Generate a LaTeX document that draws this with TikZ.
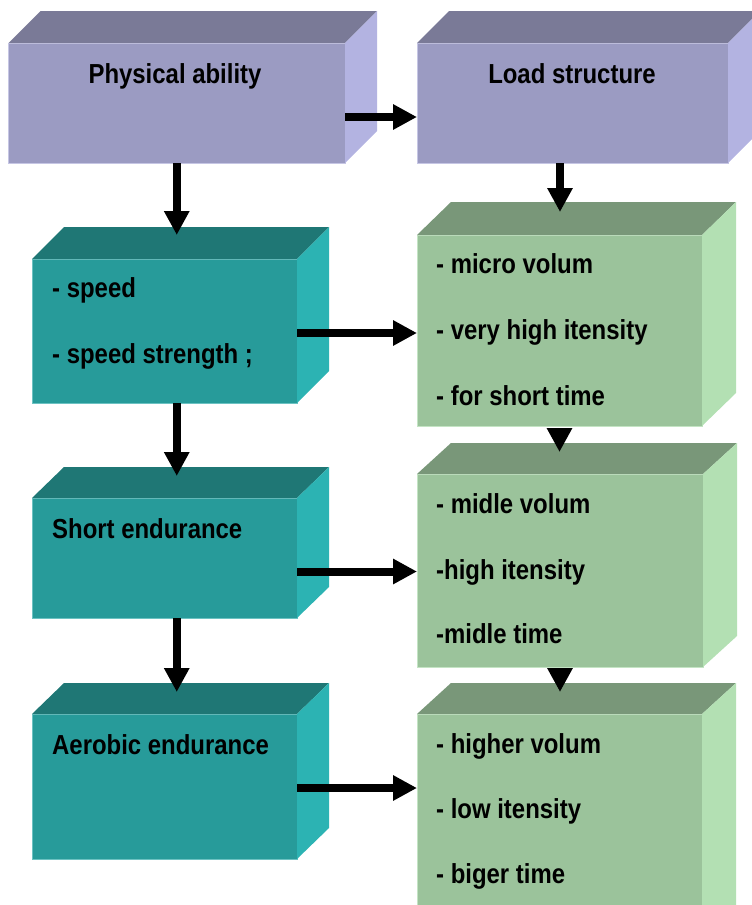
\documentclass[tikz,border=0pt]{standalone}
\usepackage{fontspec}
\newfontfamily\lbl{Liberation Sans}[FakeStretch=0.87]
\usetikzlibrary{arrows.meta}
\definecolor{pfront}{HTML}{9B9BC2}
\definecolor{ptop}{HTML}{7A7A97}
\definecolor{pside}{HTML}{B3B3E1}
\definecolor{pedge}{HTML}{C6C6E4}
\definecolor{tfront}{HTML}{279B9A}
\definecolor{ttop}{HTML}{1F7775}
\definecolor{tside}{HTML}{2CB3B3}
\definecolor{tedge}{HTML}{6CC2C2}
\definecolor{gfront}{HTML}{9BC39B}
\definecolor{gtop}{HTML}{799779}
\definecolor{gside}{HTML}{B3E0B3}
\definecolor{gedge}{HTML}{C4E4C4}
\newcommand\boxfaces[5]{%
  \fill[#4] (#1.north west) -- ++(#2,-#3) -- ([shift={(#2,-#3)}]#1.north east) -- (#1.north east) -- cycle;
  \fill[#5] (#1.north east) -- ++(#2,-#3) -- ([shift={(#2,-#3)}]#1.south east) -- (#1.south east) -- cycle;}
\tikzset{
  front/.style={rectangle, inner sep=0pt, outer sep=0pt, anchor=north west, line width=0.8pt},
  pbox/.style={front, fill=pfront, draw=pedge},
  tbox/.style={front, fill=tfront, draw=tedge},
  gbox/.style={front, fill=gfront, draw=gedge},
  txt/.style={inner sep=0pt, anchor=base west, font=\lbl\bfseries\fontsize{27.5pt}{30pt}\selectfont},
  ttl/.style={inner sep=0pt, anchor=base, font=\lbl\bfseries\fontsize{27.5pt}{30pt}\selectfont},
  arr/.style={line width=8pt, -{Triangle[length=24pt 0 0,width=24pt 0 0]}}
}
\begin{document}
\begin{tikzpicture}[x=1pt,y=-1pt]
\useasboundingbox (0,0) rectangle (752,905);
\clip (0,0) rectangle (752,905);
% purple boxes
\node[pbox, minimum width=336.5pt, minimum height=120pt] (p1) at (8.5,43) {};
\boxfaces{p1}{32}{32}{ptop}{pside}
\node[pbox, minimum width=311pt, minimum height=120pt] (p2) at (417,43) {};
\boxfaces{p2}{32}{32}{ptop}{pside}
% teal boxes
\node[tbox, minimum width=265pt, minimum height=144pt] (t1) at (32,259) {};
\boxfaces{t1}{32}{32}{ttop}{tside}
\node[tbox, minimum width=265pt, minimum height=120pt] (t2) at (32,498) {};
\boxfaces{t2}{32}{31}{ttop}{tside}
\node[tbox, minimum width=265pt, minimum height=145pt] (t3) at (32,714) {};
\boxfaces{t3}{32}{31}{ttop}{tside}
% green boxes
\node[gbox, minimum width=285pt, minimum height=191pt] (g1) at (417,235) {};
\boxfaces{g1}{34}{33}{gtop}{gside}
\node[gbox, minimum width=286pt, minimum height=193pt] (g2) at (417,474) {};
\boxfaces{g2}{34}{31}{gtop}{gside}
\node[gbox, minimum width=285pt, minimum height=230pt] (g3) at (417,714) {};
\boxfaces{g3}{34}{31}{gtop}{gside}
% texts
\node[ttl] (l1) at (175,83) {Physical ability};
\node[ttl] (l2) at (572,83) {Load structure};
\node[txt] (a1) at (52,297) {- speed};
\node[txt] (a2) at (52,363) {- speed strength ;};
\node[txt] (b1) at (52,538) {Short endurance};
\node[txt] (c1) at (52,754) {Aerobic endurance};
\node[txt] (d1) at (436,273) {- micro volum};
\node[txt] (d2) at (436,339) {- very high itensity};
\node[txt] (d3) at (436,405) {- for short time};
\node[txt] (e1) at (436,513) {- midle volum};
\node[txt] (e2) at (436,579) {-high itensity};
\node[txt] (e3) at (436,643) {-midle time};
\node[txt] (f1) at (436,753) {- higher volum};
\node[txt] (f2) at (436,818) {- low itensity};
\node[txt] (f3) at (436,883) {- biger time};
% connectors
\draw[arr] ([yshift=-14pt]p1.east) -- ([yshift=-14pt]p1.east -| p2.west);
\draw[arr, shorten >=24pt] (p1.south) -- (p1.south |- t1.north);
\draw[arr, shorten >=23pt] ([xshift=-12.5pt]p2.south) -- ([xshift=-12.5pt]p2.south |- g1.north);
\draw[arr] ([yshift=-2pt]t1.east) -- ([yshift=-2pt]t1.east -| g1.west);
\draw[arr, shorten >=22pt] (t1.south -| p1.south) -- (t2.north -| p1.south);
\draw[arr] ([yshift=-13.5pt]t2.east) -- ([yshift=-13.5pt]t2.east -| g2.west);
\draw[arr, shorten >=22pt] (t2.south -| p1.south) -- (t3.north -| p1.south);
\draw[arr] ([yshift=-1.5pt]t3.east) -- ([yshift=-1.5pt]t3.east -| g3.west);
\draw[arr, shorten <=2pt, shorten >=22pt] (g1.south) -- (g1.south |- g2.north);
\draw[arr, shorten <=2pt, shorten >=22pt] (g2.south) -- (g2.south |- g3.north);
\end{tikzpicture}
\end{document}
